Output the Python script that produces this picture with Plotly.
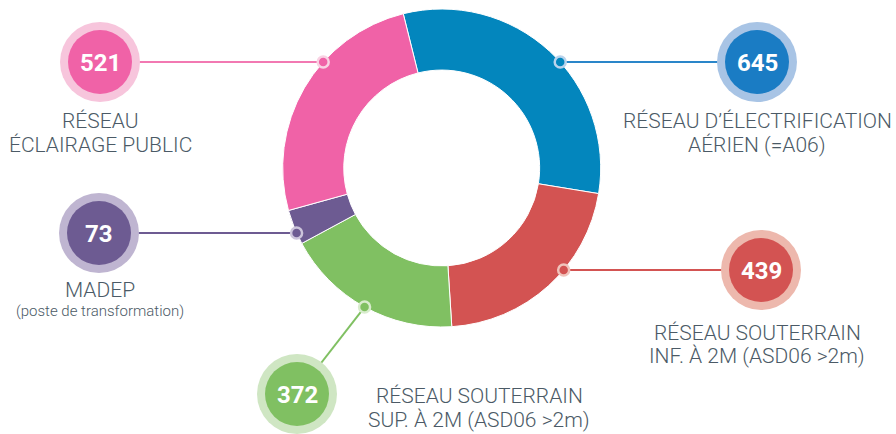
import math
import plotly.graph_objects as go

# ---- data ----
categories = [
    "RÉSEAU D’ÉLECTRIFICATION AÉRIEN (=A06)",
    "RÉSEAU SOUTERRAIN INF. À 2M (ASD06 >2m)",
    "RÉSEAU SOUTERRAIN SUP. À 2M (ASD06 >2m)",
    "MADEP (poste de transformation)",
    "RÉSEAU ÉCLAIRAGE PUBLIC",
]
values = [645, 439, 372, 73, 521]
label_line1 = ["RÉSEAU D’ÉLECTRIFICATION", "RÉSEAU SOUTERRAIN", "RÉSEAU SOUTERRAIN", "MADEP", "RÉSEAU"]
label_line2 = ["AÉRIEN (=A06)", "INF. À 2M (ASD06 >2m)", "SUP. À 2M (ASD06 >2m)", "(poste de transformation)", "ÉCLAIRAGE PUBLIC"]

# ---- style / layout ----
W, H = 896, 434
slice_colors = ["#0386BD", "#D35352", "#80C062", "#6D5B92", "#F062A7"]
badge_colors = ["#1A7CC4", "#D35352", "#80C062", "#6D5B92", "#F062A7"]
halo_colors = ["#A8C4E5", "#EDB8AD", "#CFE6C3", "#BFB5D1", "#F7C5DC"]
ring_colors = ["#B9D3EC", "#F0C4BC", "#D8ECCD", "#CCC4DB", "#F9D2E3"]
line_colors = ["#2A86C9", "#D35352", "#80C062", "#6D5B92", "#F279B2"]
badge_xy = [(757, 62), (761, 270), (297, 394), (99, 233), (100, 62)]
horizontal = [True, True, False, True, True]
label_x = [757, 757, 479, 100, 100]
label_y1 = [121, 333, 396, 290, 121]
label_y2 = [145, 356, 420, 311, 145]
label_size1 = [21, 21, 21, 21, 21]
label_size2 = [21, 21, 21, 15, 21]
text_color = "#4B5A66"

cx, cy, R = 441.7, 168.0, 159.0
hole = 0.616
rotation = -14

fig = go.Figure()
fig.add_trace(go.Pie(
    labels=categories, values=values, sort=False, direction="clockwise",
    rotation=rotation, hole=hole, textinfo="none", hoverinfo="label+value",
    marker=dict(colors=slice_colors, line=dict(color="white", width=1)),
    domain=dict(x=[(cx - R) / W, (cx + R) / W], y=[(H - (cy + R)) / H, (H - (cy - R)) / H]),
    showlegend=False,
))

shapes = []
annotations = []
total = sum(values)
start = rotation
for i, v in enumerate(values):
    span = v / total * 360.0
    a0, a1 = start, start + span
    start = a1
    bx, by = badge_xy[i]
    mid = math.radians((a0 + a1) / 2)
    if horizontal[i]:
        dy = by - cy
        dx = math.sqrt(max(R * R - dy * dy, 0))
        if math.sin(mid) < 0:
            dx = -dx
        px, py = cx + dx, by
    else:
        px, py = cx + R * math.sin(mid), cy - R * math.cos(mid)
    # connector
    shapes.append(dict(type="line", x0=px, y0=py, x1=bx, y1=by, xref="x", yref="y",
                       line=dict(color=line_colors[i], width=2), layer="above"))
    # dot on ring
    dr = 5.5
    shapes.append(dict(type="circle", x0=px - dr, y0=py - dr, x1=px + dr, y1=py + dr,
                       xref="x", yref="y", fillcolor=slice_colors[i],
                       line=dict(color=ring_colors[i], width=2.5), layer="above"))
    # badge halo + core
    hr, cr = 40, 32
    shapes.append(dict(type="circle", x0=bx - hr, y0=by - hr, x1=bx + hr, y1=by + hr,
                       xref="x", yref="y", fillcolor=halo_colors[i], line=dict(width=0), layer="above"))
    shapes.append(dict(type="circle", x0=bx - cr, y0=by - cr, x1=bx + cr, y1=by + cr,
                       xref="x", yref="y", fillcolor=badge_colors[i], line=dict(width=0), layer="above"))
    annotations.append(dict(x=bx, y=by + 1, xref="x", yref="y", text=str(v), showarrow=False,
                            font=dict(family="Roboto", size=24, color="white", weight=700),
                            xanchor="center", yanchor="middle"))
    annotations.append(dict(x=label_x[i], y=label_y1[i], xref="x", yref="y", text=label_line1[i],
                            showarrow=False, xanchor="center", yanchor="middle",
                            font=dict(family="Roboto", size=label_size1[i], color=text_color, weight=300)))
    annotations.append(dict(x=label_x[i], y=label_y2[i], xref="x", yref="y", text=label_line2[i],
                            showarrow=False, xanchor="center", yanchor="middle",
                            font=dict(family="Roboto", size=label_size2[i], color=text_color, weight=300)))

fig.update_layout(
    width=W, height=H, margin=dict(l=0, r=0, t=0, b=0),
    paper_bgcolor="white", plot_bgcolor="rgba(0,0,0,0)",
    xaxis=dict(range=[0, W], visible=False, fixedrange=True),
    yaxis=dict(range=[H, 0], visible=False, fixedrange=True),
    shapes=shapes, annotations=annotations,
)
fig.write_html("out.html", config={"displayModeBar": False},
               post_script="document.body.style.margin='0';document.body.style.padding='0';")
